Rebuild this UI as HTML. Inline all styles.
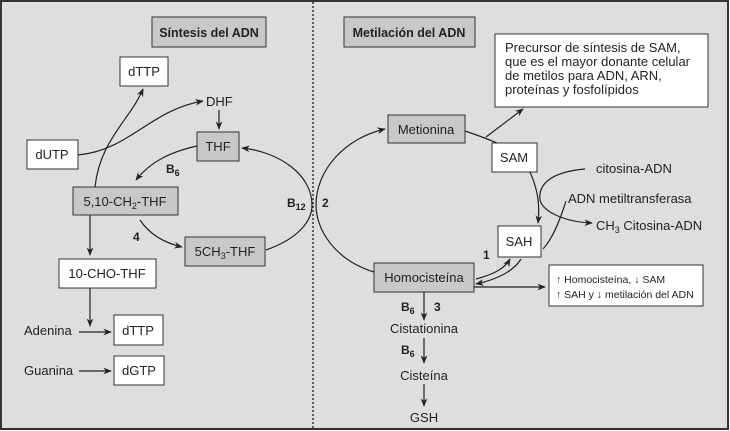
<!DOCTYPE html>
<html><head><meta charset="utf-8"><style>
body{margin:0;background:#fff}
svg{display:block;font-family:"Liberation Sans",sans-serif}
</style></head><body>
<svg width="730" height="431" viewBox="0 0 730 431" xmlns="http://www.w3.org/2000/svg">
<defs>
<marker id="a" viewBox="0 0 10 10" refX="9" refY="5" markerWidth="7" markerHeight="7" orient="auto-start-reverse"><path d="M0,1 L10,5 L0,9 L3,5 z" fill="#222"/></marker>
</defs>
<rect x="1" y="1" width="727" height="428" fill="#dedede" stroke="#333" stroke-width="2"/>
<line x1="313" y1="2" x2="313" y2="429" stroke="#333" stroke-width="1.5" stroke-dasharray="2,2"/>
<g stroke="#333" stroke-width="1" font-size="13">
<rect x="152" y="17" width="114" height="30" fill="#c8c8c8"/>
<rect x="344" y="17" width="131" height="30" fill="#c8c8c8"/>
<rect x="120" y="57" width="48" height="29" fill="#fff"/>
<rect x="197" y="132" width="42" height="29" fill="#c8c8c8"/>
<rect x="27" y="140" width="51" height="29" fill="#fff"/>
<rect x="73" y="187" width="105" height="28" fill="#c8c8c8"/>
<rect x="185" y="237" width="80" height="29" fill="#c8c8c8"/>
<rect x="59" y="259" width="97" height="29" fill="#fff"/>
<rect x="114" y="315" width="49" height="30" fill="#fff"/>
<rect x="114" y="356" width="50" height="29" fill="#fff"/>
<rect x="388" y="115" width="77" height="28" fill="#c8c8c8"/>
<rect x="495" y="34" width="213" height="73" fill="#fff"/>
<rect x="492" y="143" width="45" height="29" fill="#fff"/>
<rect x="498" y="226" width="43" height="31" fill="#fff"/>
<rect x="374" y="263" width="100" height="29" fill="#c8c8c8"/>
<rect x="549" y="265" width="154" height="41" fill="#fff"/>
</g>
<g fill="none" stroke="#222" stroke-width="1.2">
<path d="M78,155 C130,150 150,110 203,101" marker-end="url(#a)"/>
<path d="M95,187 C100,140 130,120 143,89" marker-end="url(#a)"/>
<path d="M219,110 L219,129" marker-end="url(#a)"/>
<path d="M197,146 C170,152 150,162 136,180" marker-end="url(#a)"/>
<path d="M266,250 C300,238 312,220 312,205 C312,175 280,152 242,148" marker-end="url(#a)"/>
<path d="M140,220 C150,235 165,243 182,247" marker-end="url(#a)"/>
<path d="M90,215 L90,255" marker-end="url(#a)"/>
<path d="M90,288 L90,326" marker-end="url(#a)"/>
<path d="M79,332 L111,332" marker-end="url(#a)"/>
<path d="M79,371 L111,371" marker-end="url(#a)"/>
<path d="M374,272 C335,260 316,230 316,205 C316,170 345,138 385,129" marker-end="url(#a)"/>
<path d="M465,131 C480,136 490,140 497,143"/>
<path d="M486,137 L523,109" marker-end="url(#a)"/>
<path d="M530,172 C538,190 540,205 538,223" marker-end="url(#a)"/>
<path d="M585,169 C550,172 538,185 540,200 C543,212 565,222 592,223" marker-end="url(#a)"/>
<path d="M566,201 C560,220 553,238 543,249"/>
<path d="M476,279 C495,274 505,268 510,259" marker-end="url(#a)"/>
<path d="M521,259 C513,272 495,280 476,284" marker-end="url(#a)"/>
<path d="M474,287 L545,287" marker-end="url(#a)"/>
<path d="M424,292 L424,320" marker-end="url(#a)"/>
<path d="M424,338 L424,363" marker-end="url(#a)"/>
<path d="M424,384 L424,406" marker-end="url(#a)"/>
</g>
<g fill="#222" font-size="13">
<text x="209" y="37" text-anchor="middle" font-weight="bold" font-size="12.5">Síntesis del ADN</text>
<text x="409" y="37" text-anchor="middle" font-weight="bold" font-size="12.5">Metilación del ADN</text>
<text x="144" y="76" text-anchor="middle">dTTP</text>
<text x="206" y="106">DHF</text>
<text x="218" y="151" text-anchor="middle">THF</text>
<text x="52" y="159" text-anchor="middle">dUTP</text>
<text x="125" y="206" text-anchor="middle">5,10-CH<tspan font-size="9" dy="3">2</tspan><tspan dy="-3">-THF</tspan></text>
<text x="225" y="256" text-anchor="middle">5CH<tspan font-size="9" dy="3">3</tspan><tspan dy="-3">-THF</tspan></text>
<text x="107" y="278" text-anchor="middle">10-CHO-THF</text>
<text x="138" y="335" text-anchor="middle">dTTP</text>
<text x="139" y="375" text-anchor="middle">dGTP</text>
<text x="24" y="335">Adenina</text>
<text x="24" y="375">Guanina</text>
<text x="426" y="134" text-anchor="middle">Metionina</text>
<text x="514" y="162" text-anchor="middle">SAM</text>
<text x="519" y="246" text-anchor="middle">SAH</text>
<text x="424" y="282" text-anchor="middle">Homocisteína</text>
<text x="505" y="52">Precursor de síntesis de SAM,</text>
<text x="505" y="66">que es el mayor donante celular</text>
<text x="505" y="80">de metilos para ADN, ARN,</text>
<text x="505" y="94">proteínas y fosfolípidos</text>
<text x="596" y="173">citosina-ADN</text>
<text x="568" y="203">ADN metiltransferasa</text>
<text x="596" y="230">CH<tspan font-size="9" dy="3">3</tspan><tspan dy="-3"> Citosina-ADN</tspan></text>
<text x="424" y="333" text-anchor="middle">Cistationina</text>
<text x="424" y="380" text-anchor="middle">Cisteína</text>
<text x="424" y="422" text-anchor="middle">GSH</text>
<text x="556" y="283" font-size="10.5">↑ Homocisteína, ↓ SAM</text>
<text x="556" y="298" font-size="10.5">↑ SAH y ↓ metilación del ADN</text>
<g font-weight="bold" font-size="12">
<text x="166" y="173">B<tspan font-size="9" dy="3">6</tspan></text>
<text x="287" y="207">B<tspan font-size="9" dy="3">12</tspan></text>
<text x="322" y="207">2</text>
<text x="133" y="241">4</text>
<text x="483" y="259">1</text>
<text x="401" y="311">B<tspan font-size="9" dy="3">6</tspan></text>
<text x="434" y="311">3</text>
<text x="401" y="354">B<tspan font-size="9" dy="3">6</tspan></text>
</g>
</g>
</svg>
</body></html>
